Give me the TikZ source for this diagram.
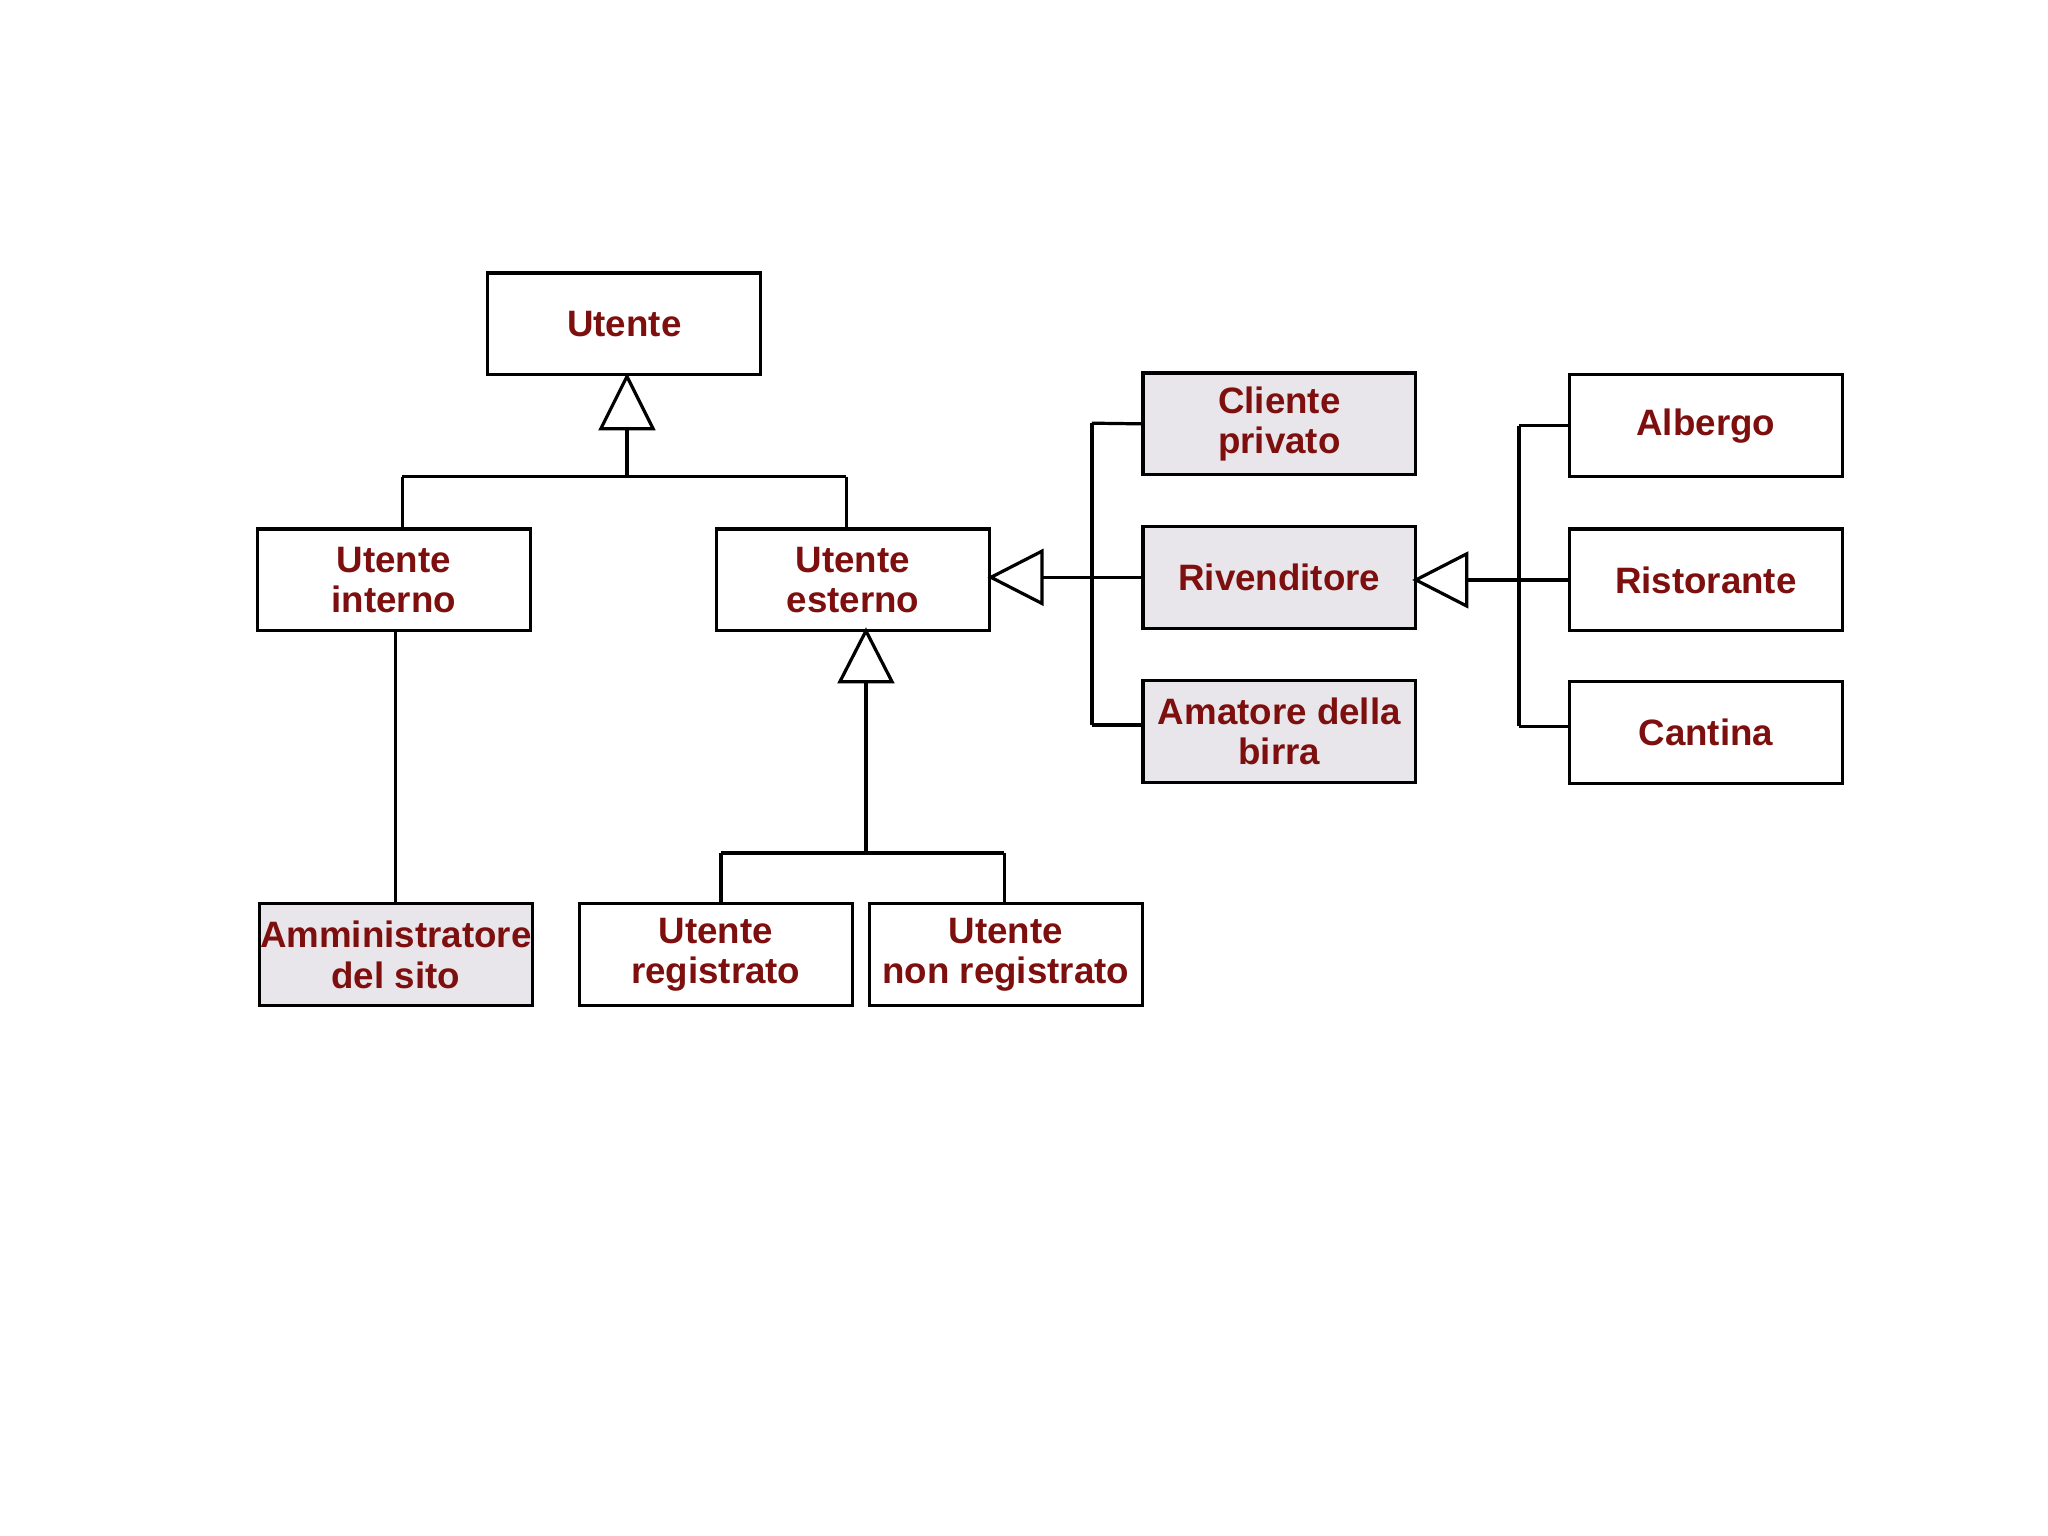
\documentclass[tikz,border=0pt]{standalone}
\usepackage{fontspec}
\setmainfont{Liberation Sans}
\begin{document}
\begin{tikzpicture}[x=0.02cm,y=-0.02cm,line width=1.4pt,
 box/.style={draw,rectangle,minimum width=4.18cm,minimum height=1.56cm,align=center,
   font=\fontsize{16}{17.6}\selectfont\bfseries,text=txt,inner sep=0pt},
 gbox/.style={box,fill=gfill},
 tri/.style={draw,fill=white,line join=miter}]
\definecolor{txt}{HTML}{7E0F0F}
\definecolor{gfill}{HTML}{E8E6EA}
\fill[white] (0,0) rectangle (1568,1176);
\useasboundingbox (0,0) rectangle (1568,1176);
\node[box] (ut) at (478,248) {Utente};
\node[box] (ui) at (301.5,444) {Utente\\interno};
\node[box] (ue) at (653,444) {Utente\\esterno};
\node[gbox] (cp) at (979.5,324.5) {Cliente\\privato};
\node[gbox] (ri) at (979.5,442) {Rivenditore};
\node[gbox] (am) at (979.5,560) {Amatore della\\birra};
\node[box] (al) at (1306,326) {Albergo};
\node[box] (rs) at (1306,444) {Ristorante};
\node[box] (ca) at (1306,561) {Cantina};
\node[gbox] (ad) at (303,731) {Amministratore\\del sito};
\node[box] (ur) at (548,731) {Utente\\registrato};
\node[box] (un) at (770,731) {Utente\\non registrato};
% Utente hierarchy
\draw (480,327) -- (480,365);
\draw (308,365) -- (648,365);
\draw (308,365) -- (308,405);
\draw (648,365) -- (648,405);
\draw[tri] (ut.south) ++(2,0) -- ++(-20,40) -- ++(40,0) -- cycle;
% interno -> admin
\draw (303,483) -- (ad.north);
% esterno children
\draw (663,522) -- (663,653);
\draw (552,653) -- (769,653);
\draw (552,653) -- (552,692);
\draw (769,653) -- (769,692);
\draw[tri] (663,483) -- (643,522) -- (683,522) -- cycle;
% esterno subclasses right
\draw (797,442) -- (ri.west);
\draw (836,324) -- (836,555);
\draw (836,324) -- (cp.west);
\draw (836,555) -- (875,555);
\draw[tri] (ue.east) ++(0,-2) -- ++(39,-20) -- ++(0,40) -- cycle;
% rivenditore subclasses
\draw (1123,444) -- (rs.west);
\draw (1163,326) -- (1163,556);
\draw (1163,326) -- (al.west);
\draw (1163,556) -- (1201,556);
\draw[tri] (1084,444) -- (1123,424) -- (1123,464) -- cycle;
\end{tikzpicture}
\end{document}
